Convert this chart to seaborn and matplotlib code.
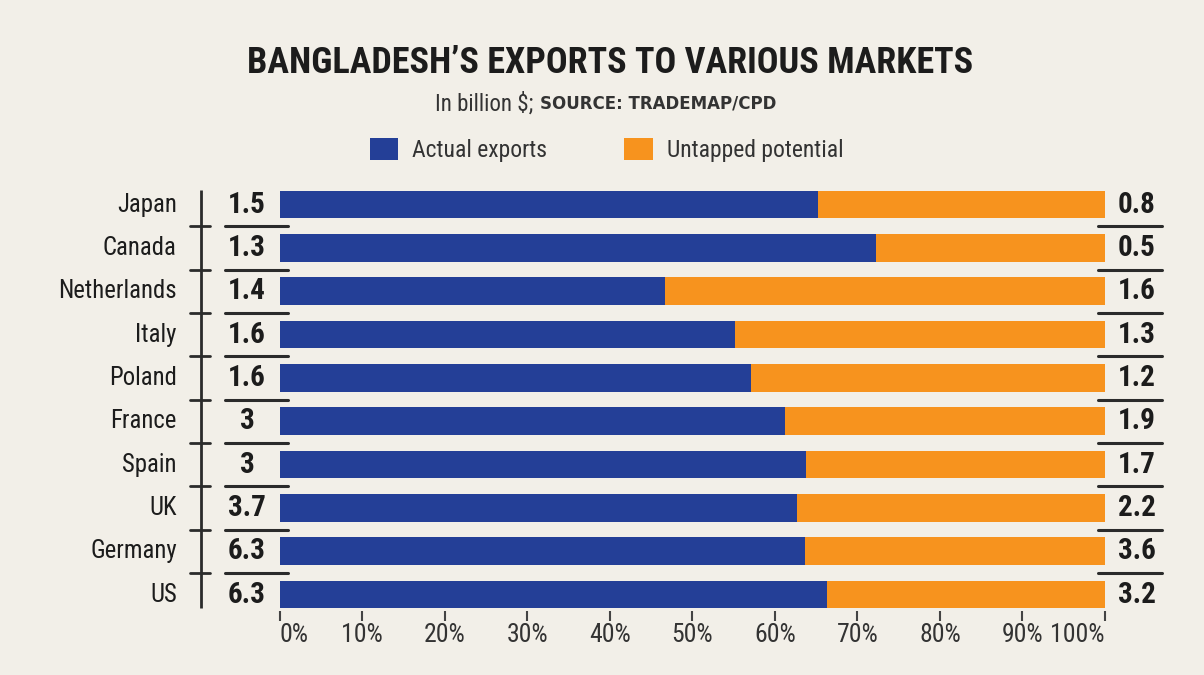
import matplotlib
matplotlib.use("Agg")
import matplotlib.pyplot as plt
import matplotlib.transforms as mtransforms
from matplotlib import font_manager as fm
import seaborn as sns
import pandas as pd

countries = ["Japan", "Canada", "Netherlands", "Italy", "Poland",
             "France", "Spain", "UK", "Germany", "US"]
actual = [1.5, 1.3, 1.4, 1.6, 1.6, 3, 3, 3.7, 6.3, 6.3]
potential = [0.8, 0.5, 1.6, 1.3, 1.2, 1.9, 1.7, 2.2, 3.6, 3.2]
actual_labels = ["1.5", "1.3", "1.4", "1.6", "1.6", "3", "3", "3.7", "6.3", "6.3"]
potential_labels = ["0.8", "0.5", "1.6", "1.3", "1.2", "1.9", "1.7", "2.2", "3.6", "3.2"]
tick_values = [0, 10, 20, 30, 40, 50, 60, 70, 80, 90, 100]
tick_labels = ["0%", "10%", "20%", "30%", "40%", "50%", "60%", "70%", "80%", "90%", "100%"]

BLUE = "#243f97"
ORANGE = "#f7931e"
BG = "#f2efe8"
INK = "#1c1c1c"
LINE = "#2b2b2b"

df = pd.DataFrame({
    "country": countries,
    "actual": actual,
    "potential": potential,
})
df["share"] = df["actual"] / (df["actual"] + df["potential"]) * 100
df["total"] = 100.0

sns.set_style("white")


def pick_condensed():
    flist = fm.fontManager.ttflist
    names = {f.name for f in flist}
    for n in ["Liberation Sans Narrow", "Roboto Condensed", "Open Sans Condensed",
              "Noto Sans Condensed", "DejaVu Sans Condensed", "Arial Narrow",
              "Noto Sans Display Condensed"]:
        if n in names:
            return n, "normal"
    for f in flist:
        st = f.stretch
        if (isinstance(st, str) and "condensed" in st) or (isinstance(st, int) and st < 500):
            return f.name, st
    return "DejaVu Sans", "normal"


COND_NAME, COND_STRETCH = pick_condensed()
IS_COND = COND_NAME != "DejaVu Sans" or COND_STRETCH != "normal"
plt.rcParams["font.family"] = [COND_NAME, "DejaVu Sans"]
plt.rcParams["font.stretch"] = COND_STRETCH
k = 1.0 if IS_COND else 0.82

fig = plt.figure(figsize=(12.04, 6.75), dpi=100, facecolor=BG)
ax = fig.add_axes([279.5 / 1204, 1 - 616.2 / 675, 825.5 / 1204, 433.3 / 675])
ax.set_facecolor(BG)

sns.barplot(data=df, x="total", y="country", color=ORANGE, width=0.635,
            linewidth=0, saturation=1, ax=ax, orient="h")
sns.barplot(data=df, x="share", y="country", color=BLUE, width=0.635,
            linewidth=0, saturation=1, ax=ax, orient="h")

ax.set_xlim(0, 100)
ax.set_ylim(9.5, -0.5)
for s in ax.spines.values():
    s.set_visible(False)
ax.set_xlabel("")
ax.set_ylabel("")
ax.set_yticks([])
ax.set_xticks(tick_values)
ax.set_xticklabels(tick_labels, fontsize=18.5 * k, color="#333333")
ax.tick_params(axis="x", direction="inout", length=7, width=1.5,
               color="#444444", pad=1.5, bottom=True)
xt = ax.get_xticklabels()
xt[0].set_ha("left")
xt[-1].set_ha("right")

trans = mtransforms.blended_transform_factory(ax.transAxes, ax.transData)

# country names and values
for i, (c, a, p) in enumerate(zip(countries, actual_labels, potential_labels)):
    ax.text(-0.1245, i, c, transform=trans, ha="right", va="center",
            fontsize=17.8 * k, color=INK)
    ax.text(-0.0394, i, a, transform=trans, ha="center", va="center",
            fontsize=21 * k, fontweight="bold", color=INK)
    ax.text(1.0388, i, p, transform=trans, ha="center", va="center",
            fontsize=21 * k, fontweight="bold", color=INK)

# left vertical rule with crosses, separators
ax.plot([-0.0955, -0.0955], [-0.335, 9.31], transform=trans, color=LINE,
        lw=2, clip_on=False, solid_capstyle="butt")
for j in range(len(countries) - 1):
    yy = j + 0.5
    ax.plot([-0.1084, -0.0842], [yy, yy], transform=trans, color=LINE,
            lw=2, clip_on=False)
    ax.plot([-0.066, 0.0103], [yy, yy], transform=trans, color=LINE,
            lw=2.2, clip_on=False)
    ax.plot([0.9915, 1.069], [yy, yy], transform=trans, color=LINE,
            lw=2.2, clip_on=False)

# titles
fig.text(610 / 1204, 1 - 63 / 675, "BANGLADESH\u2019S EXPORTS TO VARIOUS MARKETS",
         ha="center", va="center", fontsize=(26 if IS_COND else 24),
         fontweight="bold", color=INK)
fig.text(533 / 1204, 1 - 104 / 675, "In billion $;", ha="right", va="center",
         fontsize=16.5 * k, color="#333333")
fig.text(540 / 1204, 1 - 104 / 675, "SOURCE: TRADEMAP/CPD", ha="left",
         va="center", fontsize=12, fontweight="bold", color="#333333",
         family=["DejaVu Sans"], fontstretch="normal")

# legend
handles = [ax.containers[1], ax.containers[0]]
leg = fig.legend(handles, ["Actual exports", "Untapped potential"],
                 loc="center left", bbox_to_anchor=(370 / 1204, 1 - 150 / 675),
                 ncol=2, frameon=False, fontsize=17 * k, borderpad=0,
                 borderaxespad=0, handlelength=1.2 / k, handleheight=1.1 / k,
                 handletextpad=0.6 / k, columnspacing=(3.25 if IS_COND else 2.6),
                 labelcolor="#333333")

fig.savefig("out.png", dpi=100, facecolor=BG)
